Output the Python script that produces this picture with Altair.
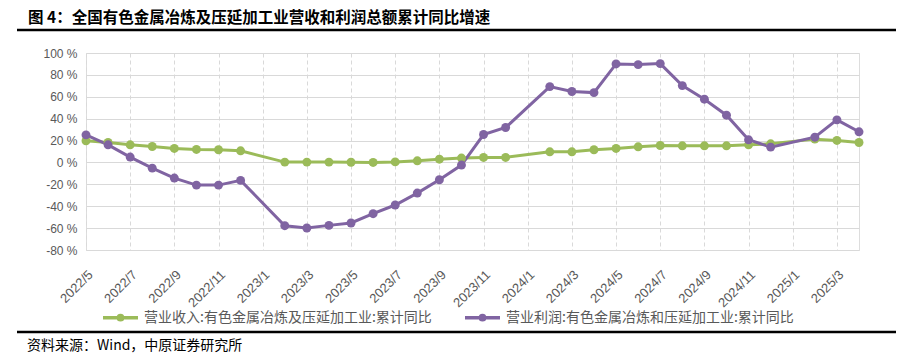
import altair as alt
import pandas as pd

months = ["2022/5", "2022/6", "2022/7", "2022/8", "2022/9", "2022/10", "2022/11", "2022/12",
          "2023/1", "2023/2", "2023/3", "2023/4", "2023/5", "2023/6", "2023/7", "2023/8",
          "2023/9", "2023/10", "2023/11", "2023/12",
          "2024/1", "2024/2", "2024/3", "2024/4", "2024/5", "2024/6", "2024/7", "2024/8",
          "2024/9", "2024/10", "2024/11", "2024/12",
          "2025/1", "2025/2", "2025/3", "2025/4"]

revenue = [19.8, 18.2, 16.1, 14.6, 12.8, 11.9, 11.6, 10.6,
           None, 0.3, 0.3, 0.3, 0.2, 0.0, 0.5, 1.5, 3.0, 4.0, 4.6, 4.6,
           None, 9.7, 9.7, 11.6, 12.8, 14.3, 15.5, 15.2, 15.2, 15.2, 16.1, 17.0,
           None, 21.3, 20.1, 18.2]

profit = [25.2, 16.1, 4.9, -5.2, -14.3, -20.7, -20.7, -16.4,
          None, -57.8, -59.9, -57.5, -55.3, -46.8, -38.9, -28.0, -15.8, -2.4, 25.5, 31.9,
          None, 69.3, 64.8, 63.8, 90.0, 89.4, 90.3, 70.2, 57.8, 43.2, 20.7, 14.0,
          None, 23.1, 38.9, 28.0]

series_names = ["营业收入:有色金属冶炼及压延加工业:累计同比",
                "营业利润:有色金属冶炼和压延加工业:累计同比"]
series_colors = ["#9BBB59", "#8064A2"]

tick_months = months[::2]
y_ticks = [-80, -60, -40, -20, 0, 20, 40, 60, 80, 100]

title_text = "图 4：全国有色金属冶炼及压延加工业营收和利润总额累计同比增速"
source_text = "资料来源：Wind，中原证券研究所"

rows = []
for name, vals in zip(series_names, [revenue, profit]):
    for m, v in zip(months, vals):
        if v is not None:
            rows.append({"month": m, "value": v, "series": name})
df = pd.DataFrame(rows)

W, H = 773, 197
PL, PT = 78, 45
PR = 894 - PL - W
PB = 348 - PT - H

x_enc = alt.X("month:O", scale=alt.Scale(domain=months, type="point", padding=0),
              sort=months,
              axis=alt.Axis(values=tick_months, title=None, labelAngle=-45,
                            grid=True, gridDash=[4, 3], gridColor="#d9d9d9", gridWidth=1,
                            domain=False, ticks=False, labelPadding=18,
                            labelFontSize=13, labelColor="#595959",
                            labelFont="Liberation Sans"))
y_enc = alt.Y("value:Q", scale=alt.Scale(domain=[-80, 100], nice=False, zero=False),
              axis=alt.Axis(values=y_ticks, title=None, labelExpr="datum.value + ' %'",
                            grid=True, gridColor="#d9d9d9", gridWidth=1,
                            domain=False, ticks=False, labelPadding=9,
                            labelFontSize=12, labelColor="#595959",
                            labelFont="Liberation Sans"))
color_scale = alt.Scale(domain=series_names, range=series_colors)

legend_path = ("M-1,0L1,0M0.12,0A0.12,0.12,0,1,1,-0.12,0A0.12,0.12,0,1,1,0.12,0Z")

lines = alt.Chart(df).mark_line(strokeWidth=3).encode(
    x=x_enc, y=y_enc,
    color=alt.Color("series:N", scale=color_scale, sort=series_names,
                    legend=alt.Legend(title=None, orient="none", direction="horizontal",
                                      legendX=15, legendY=245, padding=0,
                                      symbolType=legend_path, symbolSize=1225,
                                      symbolStrokeWidth=3.5, labelOffset=4,
                                      columnPadding=26, labelLimit=500,
                                      labelFontSize=14, labelColor="#595959",
                                      labelFont="Noto Sans CJK SC")))

points = alt.Chart(df).mark_point(filled=True, size=80, opacity=1).encode(
    x=x_enc, y=y_enc,
    color=alt.Color("series:N", scale=color_scale, sort=series_names, legend=None))

title_df = pd.DataFrame({"t": [title_text]})
title_mark = alt.Chart(title_df).mark_text(
    align="left", baseline="middle", fontSize=15.5, fontWeight="bold",
    font="Noto Sans CJK SC", color="#000000").encode(
    text="t:N", x=alt.value(-58), y=alt.value(-35))

source_df = pd.DataFrame({"t": [source_text]})
source_mark = alt.Chart(source_df).mark_text(
    align="left", baseline="middle", fontSize=14,
    font="Noto Sans CJK SC", color="#000000").encode(
    text="t:N", x=alt.value(-59), y=alt.value(293))

rule_df = pd.DataFrame({"k": [0]})
top_rule = alt.Chart(rule_df).mark_rule(color="#000000", strokeWidth=2.5).encode(
    x=alt.value(-69), x2=alt.value(810), y=alt.value(-23))
bottom_rule = alt.Chart(rule_df).mark_rule(color="#000000", strokeWidth=2.5).encode(
    x=alt.value(-69), x2=alt.value(810), y=alt.value(279))

chart = alt.layer(lines, points, title_mark, source_mark, top_rule, bottom_rule).properties(
    width=W, height=H,
    autosize=alt.AutoSizeParams(type="none"),
    padding={"left": PL, "top": PT, "right": PR, "bottom": PB},
).configure_view(stroke="#d9d9d9", strokeWidth=1.5).configure(background="white")

chart.save("out.html", embed_options={"renderer": "svg", "actions": False})
